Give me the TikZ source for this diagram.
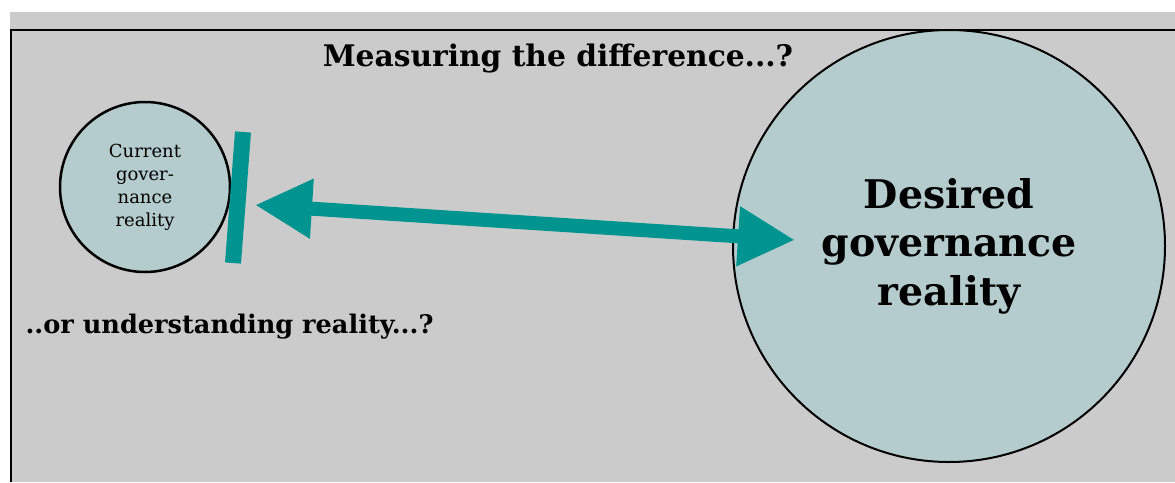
\documentclass[tikz,border=0pt]{standalone}
\usepackage{fontspec}
\setmainfont{DejaVu Serif}
\usetikzlibrary{arrows.meta}
\definecolor{panelgrey}{RGB}{203,203,203}
\definecolor{realityfill}{RGB}{180,204,205}
\definecolor{arrowteal}{RGB}{0,148,144}
\tikzset{
  reality/.style={circle, draw=black, fill=realityfill, inner sep=0pt, align=center},
  heading/.style={font=\bfseries\fontsize{29.7}{34}\selectfont, anchor=base}
}

\begin{document}
\begin{tikzpicture}[x=1pt, y=-1pt]
    \useasboundingbox (0,0) rectangle (1175,482);
    % panel
    \fill[panelgrey] (10,12) rectangle (1175,482);
    \draw[line width=2pt] (11,482) -- (11,30) -- (1175,30);

    \node[heading] (title) at (558,66) {Measuring the difference...?};
    \node[heading, anchor=base west, font=\bfseries\fontsize{25.6}{30}\selectfont]
          (question) at (22,333) {..or understanding reality...?};

    % the two realities
    \node[reality, line width=2.5pt, minimum size=170pt,
          font=\fontsize{18}{23}\selectfont] (current) at (145,187)
          {Current\\gover-\\nance\\reality};
    \node[reality, line width=2pt, minimum size=432pt,
          font=\bfseries\fontsize{39.5}{48.5}\selectfont] (desired) at (949,246)
          {Desired\\governance\\reality};

    % barrier and the gap
    \coordinate (bartop) at (243,132);
    \coordinate (barbot) at (233,263);
    \draw[arrowteal, line width=16pt] (bartop) -- (barbot);
    \coordinate (gapleft) at (255,205);
    \coordinate (gapright) at (795,240);
    \draw[arrowteal, line width=14pt,
          {Triangle[length=57pt,width=56pt]}-{Triangle[length=57pt,width=56pt]}]
          (gapleft) -- (gapright);
\end{tikzpicture}
\end{document}
